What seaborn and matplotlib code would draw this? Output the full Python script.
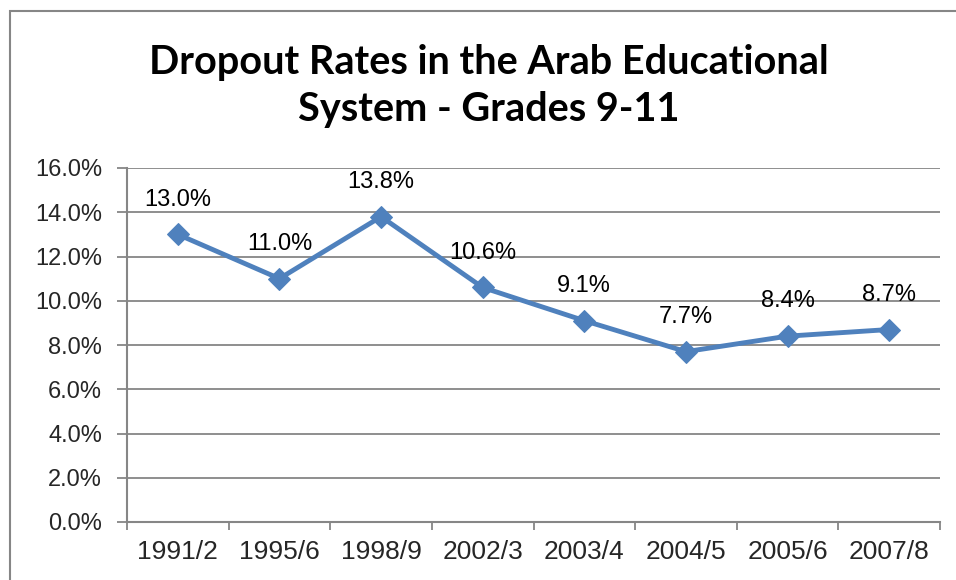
import matplotlib
matplotlib.use("Agg")
import matplotlib.pyplot as plt
import seaborn as sns
from matplotlib.patches import Rectangle
from matplotlib.ticker import FuncFormatter, FixedLocator

years = ["1991/2", "1995/6", "1998/9", "2002/3", "2003/4", "2004/5", "2005/6", "2007/8"]
dropout = [13.0, 11.0, 13.8, 10.6, 9.1, 7.7, 8.4, 8.7]
y_ticks = [0, 2, 4, 6, 8, 10, 12, 14, 16]

sns.set_style("white")
plt.rcParams["font.family"] = ["Liberation Sans", "DejaVu Sans"]

grey = "#868686"
blue = "#4F81BD"

fig = plt.figure(figsize=(9.56, 5.8), dpi=100)
ax = fig.add_axes([127 / 956, 58 / 580, 813 / 956, 354 / 580])

sns.lineplot(x=years, y=dropout, ax=ax, color=blue, linewidth=3.5,
             marker="D", markersize=11.5, markeredgecolor=blue, sort=False)

for i, v in enumerate(dropout):
    ax.annotate(f"{v:.1f}%", (i, v), xytext=(0, 25), textcoords="offset points",
                ha="center", va="center", fontsize=17, color="black")

ax.set_xlim(-0.5, len(years) - 0.5)
ax.set_ylim(0, 16)
ax.yaxis.set_major_locator(FixedLocator(y_ticks))
ax.yaxis.set_major_formatter(FuncFormatter(lambda v, p: f"{v:.1f}%"))
ax.set_xticks(range(len(years)))
ax.set_xticklabels(years)
ax.set_xticks([i - 0.5 for i in range(len(years) + 1)], minor=True)

ax.grid(axis="y", color=grey, linewidth=1.3)
ax.set_axisbelow(True)
for s in ["top", "right"]:
    ax.spines[s].set_visible(False)
for s in ["left", "bottom"]:
    ax.spines[s].set_color(grey)
    ax.spines[s].set_linewidth(1.5)

ax.tick_params(axis="y", which="major", direction="out", length=7, width=1.3,
               color=grey, labelsize=17, pad=11, left=True)
ax.tick_params(axis="x", which="major", length=0, labelsize=19, pad=13)
ax.tick_params(axis="x", which="minor", direction="out", length=6, width=1.3,
               color=grey, bottom=True)
ax.set_xlabel("")
ax.set_ylabel("")

fig.text(489 / 956, 1 - 86 / 580,
         "Dropout Rates in the Arab Educational\nSystem - Grades 9-11",
         ha="center", va="center", fontsize=28.5, fontweight="bold",
         color="black", family=["Lato", "DejaVu Sans"], linespacing=1.36)

fig.patches.append(Rectangle((9.5 / 956, -0.1), 1.2, 1 - 11 / 580 + 0.1,
                             transform=fig.transFigure, fill=False,
                             edgecolor=grey, linewidth=1.5))

fig.savefig("out.png", dpi=100)
